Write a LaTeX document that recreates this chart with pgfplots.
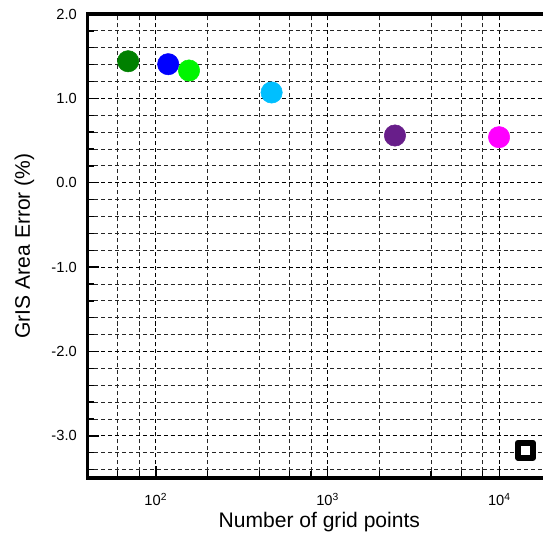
\documentclass[border=0pt]{standalone}
\usepackage{fontspec}
\setmainfont{Liberation Sans}
\usepackage{pgfplots}
\pgfplotsset{compat=1.18}
\definecolor{cDkGreen}{RGB}{0,128,0}
\definecolor{cBlue}{RGB}{0,0,255}
\definecolor{cLime}{RGB}{0,245,0}
\definecolor{cSky}{RGB}{0,191,255}
\definecolor{cPurple}{RGB}{104,30,138}
\definecolor{cMagenta}{RGB}{255,0,255}
\begin{document}
\begin{tikzpicture}
\begin{axis}[
  scale only axis,
  width=347.7pt, height=348pt,
  xmode=log,
  xmin=40, xmax=20000,
  ymin=-3.5, ymax=2.0,
  log basis x=10,
  xtick={100,1000,10000},
  xticklabels={10\textsuperscript{2},10\textsuperscript{3},10\textsuperscript{4}},
  minor xtick={60,80,200,400,600,800,2000,4000,6000,8000},
  ytick={-3,-2,-1,0,1,2},
  minor ytick={-3.4,-3.2,-2.8,-2.6,-2.4,-2.2,-1.8,-1.6,-1.4,-1.2,-0.8,-0.6,-0.4,-0.2,0.2,0.4,0.6,0.8,1.2,1.4,1.6,1.8},
  yticklabel style={/pgf/number format/.cd,fixed,fixed zerofill,precision=1,/tikz/.cd, xshift=-4.5pt},
  xticklabel style={yshift=-8pt},
  /pgf/number format/assume math mode=true,
  tick label style={font=\fontsize{11pt}{13pt}\selectfont},
  label style={font=\fontsize{15.8pt}{18pt}\selectfont},
  xlabel={Number of grid points},
  ylabel={GrIS Area Error (\%)},
  xlabel style={at={(axis description cs:0.5,-0.107)}, anchor=base},
  ylabel style={at={(axis description cs:-0.136,0.5)}, anchor=center},
  tick align=inside,
  major tick length=9pt,
  minor tick length=5pt,
  every tick/.style={black, line width=1pt},
  grid=both,
  major grid style={black, line width=0.9pt, dash pattern=on 3pt off 2.2pt},
  minor grid style={black!85, line width=0.65pt, dash pattern=on 3pt off 2.2pt},
  axis line style={line width=2.6pt},
  axis on top,
  clip=false,
  xtick pos=bottom, ytick pos=left,
]
\addplot[only marks, mark=*, mark size=8pt, color=cDkGreen] coordinates {(69,1.44)};
\addplot[only marks, mark=*, mark size=8pt, color=cBlue] coordinates {(118,1.405)};
\addplot[only marks, mark=*, mark size=8pt, color=cLime] coordinates {(156,1.33)};
\addplot[only marks, mark=*, mark size=8pt, color=cSky] coordinates {(472,1.07)};
\addplot[only marks, mark=*, mark size=8pt, color=cPurple] coordinates {(2466,0.56)};
\addplot[only marks, mark=*, mark size=8pt, color=cMagenta] coordinates {(9950,0.54)};
\addplot[only marks, mark=square*, mark size=5.6pt, mark options={fill=white, draw=black, line width=4.5pt, line join=round}] coordinates {(14170,-3.17)};
\end{axis}
\pgfresetboundingbox
\useasboundingbox (-65.6pt,-45pt) rectangle (341.6pt,358.5pt);
\end{tikzpicture}
\end{document}
